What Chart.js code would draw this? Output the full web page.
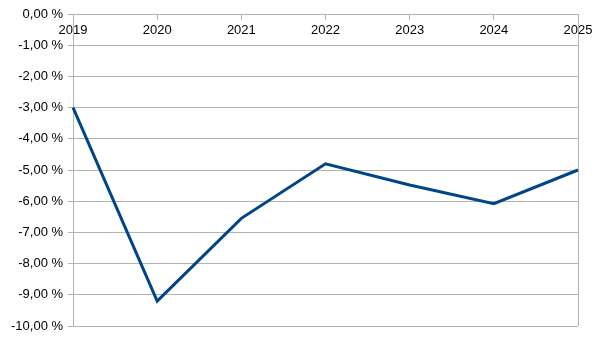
<!DOCTYPE html>
<html>
<head>
<meta charset="utf-8">
<script src="https://cdn.jsdelivr.net/npm/chart.js@4/dist/chart.umd.min.js"></script>
<style>
  html, body { margin: 0; padding: 0; background: #fff; }
  #wrap { width: 605px; height: 341px; }
</style>
</head>
<body>
<div id="wrap"><canvas id="chart"></canvas></div>
<script>
// ---- data ----
const years = ['2019', '2020', '2021', '2022', '2023', '2024', '2025'];
const values = [-3.0, -9.2, -6.55, -4.8, -5.48, -6.08, -5.0];
const yMin = -10;
const yMax = 0;
const yStep = 1;

const gridColor = '#b3b3b3';
const fmt = (v) => v.toFixed(2).replace('.', ',') + ' %';

const ctx = document.getElementById('chart');
new Chart(ctx, {
    type: 'line',
    data: {
        labels: years,
        datasets: [{
            data: values,
            borderColor: '#004586',
            borderWidth: 3,
            pointRadius: 0,
            tension: 0,
            fill: false
        }]
    },
    options: {
        responsive: true,
        maintainAspectRatio: false,
        animation: false,
        layout: { padding: { left: 6, right: 27, top: 14, bottom: 15 } },
        plugins: { legend: { display: false }, tooltip: { enabled: false } },
        scales: {
            x: {
                position: { y: 0 },
                offset: false,
                grid: {
                    // only the right edge gets a vertical line
                    color: (c) => c.index === years.length - 1 ? gridColor : 'rgba(0,0,0,0)',
                    tickColor: gridColor,
                    tickLength: 5,
                    drawTicks: true
                },
                border: { color: gridColor },
                ticks: {
                    color: '#000',
                    font: { family: 'Liberation Sans', size: 13 },
                    padding: 4,
                    maxRotation: 0,
                    autoSkip: false
                }
            },
            y: {
                min: yMin,
                max: yMax,
                grid: { color: gridColor, tickLength: 5 },
                border: { color: gridColor },
                ticks: {
                    stepSize: yStep,
                    color: '#000',
                    font: { family: 'Liberation Sans', size: 13 },
                    padding: 5,
                    callback: (v) => fmt(v)
                }
            }
        }
    }
});
</script>
</body>
</html>
